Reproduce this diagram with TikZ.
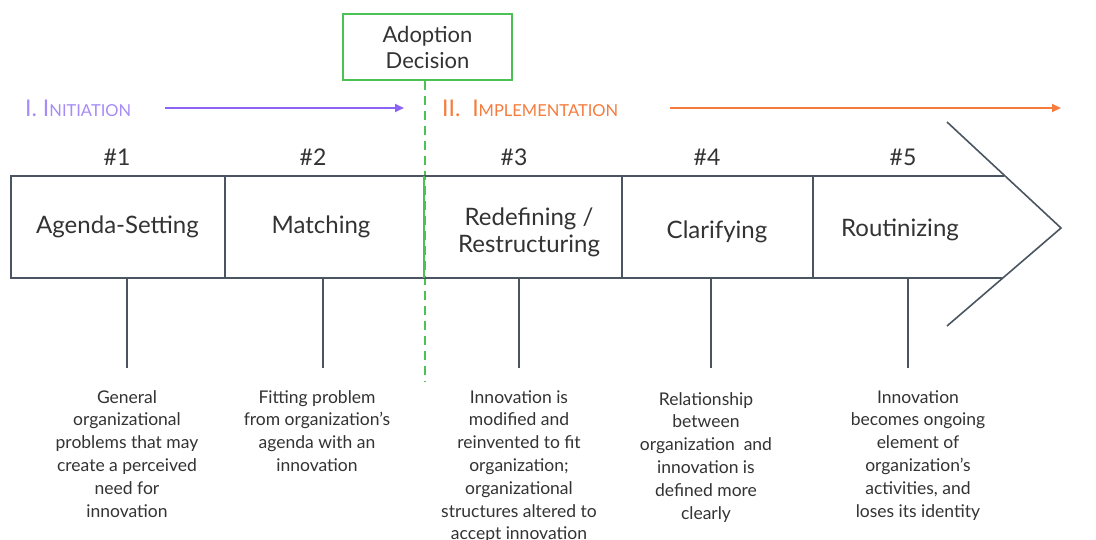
\documentclass[tikz,border=0pt]{standalone}
\usepackage{fontspec}
\setmainfont{Lato}
\usepackage{tikz}
\usetikzlibrary{arrows.meta, positioning}
\definecolor{linegray}{HTML}{4A5561}
\definecolor{textgray}{HTML}{333333}
\definecolor{initpurple}{HTML}{A68CF7}
\definecolor{arrowpurple}{HTML}{8C64F5}
\definecolor{implorange}{HTML}{F57C3C}
\definecolor{decgreen}{HTML}{4CC254}
\newcommand{\smallcap}[1]{{\fontsize{16.5}{20}\selectfont #1}}
\tikzstyle{band} = [draw=linegray, line width=1.6pt]
\tikzstyle{stage} = [text=textgray, font=\fontsize{24}{27}\selectfont, align=center]
\tikzstyle{number} = [text=textgray, font=\fontsize{23}{27}\selectfont]
\tikzstyle{desc} = [text=textgray, font=\fontsize{17.5}{22.8}\selectfont, align=center, anchor=north, inner sep=0]
\tikzstyle{phase} = [font=\fontsize{23}{27}\selectfont, anchor=west, inner sep=0]
\tikzstyle{phasearrow} = [line width=1.8pt, -{Triangle[length=9pt, width=8pt]}]

\begin{document}
\begin{tikzpicture}[x=1pt, y=-1pt]
				\useasboundingbox [fill=white] (0, 0) rectangle (1096, 540);

				% adoption decision
				\node (Decision) [draw=decgreen, line width=1.5pt, text=textgray, font=\fontsize{22}{26}\selectfont,
					align=center, minimum width=169pt, minimum height=66pt] at (427.5, 47) {Adoption\\Decision};
				\coordinate (DecisionEnd) at (425, 382);
				\draw [decgreen, line width=2pt, dash pattern=on 9pt off 6pt] (Decision.south -| DecisionEnd) -- (DecisionEnd);

				% phases
				\node (Initiation) [phase, text=initpurple] at (25, 108) {I.~I\smallcap{NITIATION}};
				\coordinate (InitStart) at (165, 108);
				\coordinate (InitEnd) at (404, 108);
				\draw [phasearrow, arrowpurple] (InitStart) -- (InitEnd);

				\node (Implementation) [phase, text=implorange] at (442, 108) {II.~~I\smallcap{MPLEMENTATION}};
				\coordinate (ImplStart) at (670, 108);
				\coordinate (ImplEnd) at (1061, 108);
				\draw [phasearrow, implorange] (ImplStart) -- (ImplEnd);

				% the band
				\coordinate (TopLeft) at (11, 176);
				\coordinate (BottomLeft) at (11, 278);
				\coordinate (TopRight) at (1004, 176);
				\coordinate (BottomRight) at (1003, 278);
				\coordinate (HeadTop) at (947, 122);
				\coordinate (HeadTip) at (1061, 228);
				\coordinate (HeadBottom) at (947, 326);
				\draw [band] (TopRight) -- (TopLeft) -- (BottomLeft) -- (BottomRight);
				\draw [band] (HeadTop) -- (HeadTip) -- (HeadBottom);

				\coordinate (Div1Top) at (225, 176);
				\coordinate (Div1Bottom) at (225, 278);
				\draw [band] (Div1Top) -- (Div1Bottom);
				\coordinate (Div2Top) at (424, 176);
				\coordinate (Div2Bottom) at (424, 278);
				\draw [decgreen, line width=2.2pt] (Div2Top) -- (Div2Bottom);
				\coordinate (Div3Top) at (622, 176);
				\coordinate (Div3Bottom) at (622, 278);
				\draw [band] (Div3Top) -- (Div3Bottom);
				\coordinate (Div4Top) at (813, 176);
				\coordinate (Div4Bottom) at (813, 278);
				\draw [band] (Div4Top) -- (Div4Bottom);

				% agenda-setting
				\node (N1) [number] at (117, 157) {\#1};
				\node (Agenda) [stage] at (117.5, 227) {Agenda-Setting};
				\coordinate (Stem1Top) at (127, 278);
				\coordinate (Stem1Bottom) at (127, 368);
				\draw [band] (Stem1Top) -- (Stem1Bottom);
				\node (AgendaDesc) [desc] at (127, 390) {General\\organizational\\problems that may\\create a perceived\\need for\\innovation};

				% matching
				\node (N2) [number] at (313, 157) {\#2};
				\node (Matching) [stage] at (321, 227) {Matching};
				\coordinate (Stem2Top) at (323, 278);
				\coordinate (Stem2Bottom) at (323, 368);
				\draw [band] (Stem2Top) -- (Stem2Bottom);
				\node (MatchingDesc) [desc] at (317, 390) {Fitting problem\\from organization’s\\agenda with an\\innovation};

				% redefining / restructuring
				\node (N3) [number] at (514, 157) {\#3};
				\node (Redefining) [stage] at (529, 232) {Redefining /\\Restructuring};
				\coordinate (Stem3Top) at (519, 278);
				\coordinate (Stem3Bottom) at (519, 368);
				\draw [band] (Stem3Top) -- (Stem3Bottom);
				\node (RedefiningDesc) [desc] at (519, 390) {Innovation is\\modified and\\reinvented to fit\\organization;\\organizational\\structures altered to\\accept innovation};

				% clarifying
				\node (N4) [number] at (707, 157) {\#4};
				\node (Clarifying) [stage] at (717, 232) {Clarifying};
				\coordinate (Stem4Top) at (711, 278);
				\coordinate (Stem4Bottom) at (711, 368);
				\draw [band] (Stem4Top) -- (Stem4Bottom);
				\node (ClarifyingDesc) [desc] at (706, 392) {Relationship\\between\\organization\ \ and\\innovation is\\defined more\\clearly};

				% routinizing
				\node (N5) [number] at (903, 157) {\#5};
				\node (Routinizing) [stage] at (900, 230) {Routinizing};
				\coordinate (Stem5Top) at (908, 278);
				\coordinate (Stem5Bottom) at (908, 368);
				\draw [band] (Stem5Top) -- (Stem5Bottom);
				\node (RoutinizingDesc) [desc] at (918, 390) {Innovation\\becomes ongoing\\element of\\organization’s\\activities, and\\loses its identity};
\end{tikzpicture}
\end{document}
